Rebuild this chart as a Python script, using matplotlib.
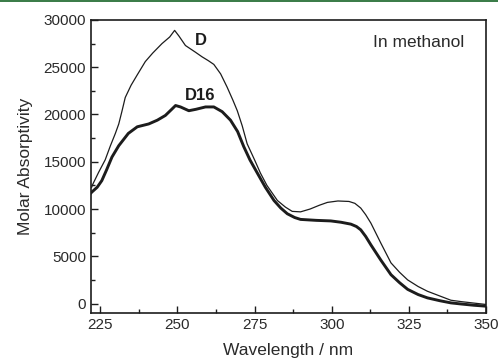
import matplotlib
matplotlib.use("Agg")
import matplotlib.pyplot as plt
from matplotlib.ticker import MultipleLocator

wl_d = [222.2, 222.7, 224.5, 226.6, 228.3, 229.9, 231.0, 232.0, 233.1, 235.0, 237.0,
        239.6, 242.0, 245.0, 247.5, 249.1, 250.5, 252.6, 255.8, 258.0, 260.0, 261.8,
        264.0, 266.1, 268.0, 269.4, 271.0, 272.6, 275.0, 276.9, 279.0, 282.4, 285.0,
        287.2, 289.9, 293.0, 296.0, 298.6, 302.0, 305.6, 307.5, 309.4, 311.0, 312.7,
        315.9, 319.2, 322.0, 324.6, 328.0, 331.0, 335.0, 338.6, 342.0, 346.0, 350.0]
abs_d = [12300, 12700, 13900, 15200, 16700, 18000, 19000, 20300, 21800, 23100, 24200,
         25600, 26500, 27500, 28200, 28900, 28300, 27300, 26600, 26100, 25700, 25300,
         24300, 22900, 21500, 20400, 18800, 16900, 15200, 13800, 12500, 10900, 10200,
         9750, 9700, 10000, 10400, 10700, 10850, 10800, 10600, 10100, 9400, 8500,
         6400, 4300, 3300, 2500, 1800, 1300, 800, 350, 200, 50, -100]

wl_d16 = [222.0, 222.3, 224.0, 225.5, 227.0, 228.8, 231.0, 234.1, 237.0, 240.7, 243.5,
          246.1, 248.0, 249.4, 251.0, 253.7, 256.0, 259.1, 261.8, 264.5, 267.2, 269.5,
          271.5, 273.5, 275.9, 278.5, 281.3, 283.5, 285.6, 288.0, 289.9, 295.0, 299.7,
          303.0, 306.2, 308.0, 309.4, 311.0, 312.7, 315.9, 319.2, 322.0, 324.6, 328.0,
          331.0, 335.0, 338.6, 342.0, 346.0, 350.0]
abs_d16 = [11700, 11800, 12300, 13000, 14100, 15500, 16700, 18000, 18700, 19000, 19400,
           19900, 20500, 20950, 20800, 20400, 20550, 20800, 20800, 20300, 19400, 18200,
           16600, 15200, 13800, 12300, 10900, 10100, 9500, 9100, 8900, 8800, 8740,
           8600, 8400, 8150, 7800, 7100, 6200, 4600, 3050, 2200, 1500, 950,
           600, 300, 70, -50, -180, -280]

xticks = [225, 250, 275, 300, 325, 350]
yticks = [0, 5000, 10000, 15000, 20000, 25000, 30000]

ink = "#1c1c1c"
txt = "#2a2a2a"
plt.rcParams["font.family"] = ["Liberation Sans", "DejaVu Sans"]

fig = plt.figure(figsize=(4.98, 3.62), dpi=100)
ax = fig.add_axes([0.1827, 0.1354, 0.7933, 0.8094])

ax.plot(wl_d, abs_d, color=ink, lw=0.9)
ax.plot(wl_d16, abs_d16, color=ink, lw=2.1)

ax.set_xlim(222, 350)
ax.set_ylim(-1000, 30000)
ax.set_xticks(xticks)
ax.set_yticks(yticks)
ax.xaxis.set_minor_locator(MultipleLocator(12.5))
ax.yaxis.set_minor_locator(MultipleLocator(2500))
ax.tick_params(which="both", direction="in", top=False, right=False,
               colors=ink, labelcolor=txt, labelsize=11, width=1.0)
ax.tick_params(which="major", length=5)
ax.tick_params(which="minor", length=3)
for s in ax.spines.values():
    s.set_linewidth(1.2)
    s.set_color(ink)

ax.set_xlabel("Wavelength / nm", fontsize=12.5, color=txt, labelpad=8)
ax.set_ylabel("Molar Absorptivity", fontsize=12.5, color=txt, labelpad=8)

ax.text(257.5, 27800, "D", fontsize=12, fontweight="bold", color=ink, ha="center", va="center")
ax.text(257.5, 22000, "D16", fontsize=12, fontweight="bold", color=ink, ha="center", va="center")
ax.text(343, 27600, "In methanol", fontsize=12.5, color=txt, ha="right", va="center")

# green rule along the top of the page
fig.add_artist(plt.Rectangle((0, 0.994), 1, 0.006, transform=fig.transFigure,
                             facecolor="#3c7d4a", edgecolor="none"))

fig.savefig("out.png", dpi=100)
plt.close(fig)
